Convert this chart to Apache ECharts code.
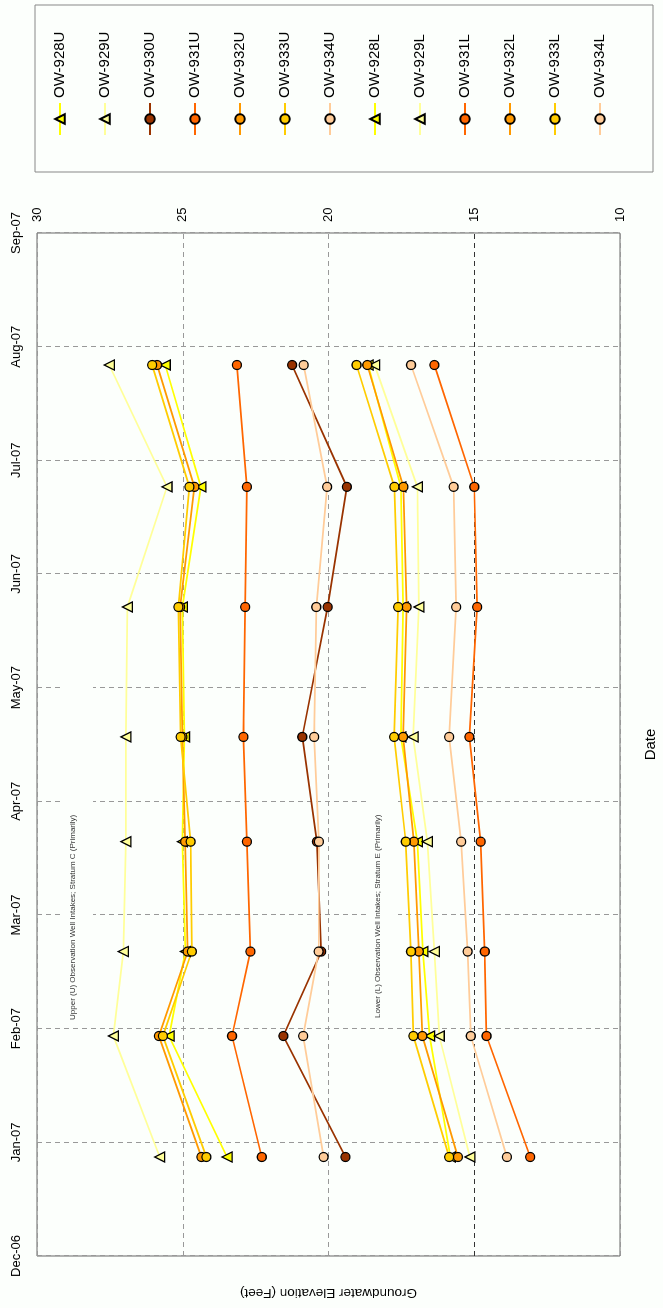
<!DOCTYPE html>
<html><head><meta charset="utf-8">
<script src="https://cdn.jsdelivr.net/npm/echarts/dist/echarts.min.js"></script>
<style>
html,body{margin:0;padding:0;background:#fcfffc;overflow:hidden;width:663px;height:1308px}
#chart{position:absolute;left:0;top:0;width:1308px;height:663px;transform-origin:0 0;transform:translate(0,1308px) rotate(-90deg);}
</style></head><body><div id="chart"></div>
<script>
// Sampling dates
const dates = ['2006-12-28','2007-01-30','2007-02-20','2007-03-21','2007-04-18','2007-05-23','2007-06-24','2007-07-27'];
// Month tick labels (Dec-06 .. Sep-07)
const monthLabels = ['Dec-06','Jan-07','Feb-07','Mar-07','Apr-07','May-07','Jun-07','Jul-07','Aug-07','Sep-07'];
const elevTicks = [10,15,20,25,30];

// Upper wells (feet)
const ow928U = [23.48,25.47,24.91,25.01,24.94,25.01,24.38,25.60];
const ow929U = [25.79,27.38,27.04,26.95,26.95,26.90,25.54,27.52];
const ow930U = [19.42,21.55,20.25,20.40,20.90,20.03,19.37,21.25];
const ow931U = [22.29,23.31,22.68,22.80,22.92,22.86,22.80,23.14];
const ow932U = [24.36,25.82,24.83,24.92,25.01,25.09,24.60,25.88];
const ow933U = [24.19,25.68,24.69,24.73,25.07,25.15,24.77,26.05];
const ow934U = [20.17,20.87,20.34,20.33,20.49,20.42,20.05,20.85];
// Lower wells (feet)
const ow928L = [15.82,16.53,16.76,16.95,17.52,17.44,17.52,18.64];
const ow929L = [15.15,16.20,16.37,16.61,17.10,16.90,16.95,18.42];
const ow931L = [13.08,14.58,14.64,14.78,15.17,14.90,15.00,16.37];
const ow932L = [15.56,16.78,16.90,17.07,17.44,17.32,17.43,18.67];
const ow933L = [15.86,17.09,17.17,17.35,17.75,17.61,17.74,19.04];
const ow934L = [13.88,15.12,15.23,15.45,15.86,15.62,15.71,17.17];

const FONT = 'Liberation Sans, Arial, sans-serif';

// month position on the month-uniform axis (0 = Dec-06)
function monthPos(s){
  const p = s.split('-').map(Number);
  const idx = (p[0]-2006)*12 + (p[1]-12);
  const dim = new Date(p[0], p[1], 0).getDate();
  return idx + (p[2]-1)/dim;
}

function mk(name, vals, color, symbol){
  return {
    name, type:'line',
    data: dates.map((d,i)=>[monthPos(d), vals[i]]),
    symbol, symbolSize: symbol==='triangle' ? 10 : 9,
    showAllSymbol: true,
    lineStyle:{color, width:1.75},
    itemStyle:{color, borderColor:'#000', borderWidth:1.3},
    emphasis:{disabled:true},
    z: 3
  };
}

const series = [
  mk('OW-928U', ow928U, '#FFFF00', 'triangle'),
  mk('OW-929U', ow929U, '#FFFF99', 'triangle'),
  mk('OW-930U', ow930U, '#993300', 'circle'),
  mk('OW-931U', ow931U, '#FF6600', 'circle'),
  mk('OW-932U', ow932U, '#FF9900', 'circle'),
  mk('OW-933U', ow933U, '#FFCC00', 'circle'),
  mk('OW-934U', ow934U, '#FFCC99', 'circle'),
  mk('OW-928L', ow928L, '#FFFF00', 'triangle'),
  mk('OW-929L', ow929L, '#FFFF99', 'triangle'),
  mk('OW-931L', ow931L, '#FF6600', 'circle'),
  mk('OW-932L', ow932L, '#FF9900', 'circle'),
  mk('OW-933L', ow933L, '#FFCC00', 'circle'),
  mk('OW-934L', ow934L, '#FFCC99', 'circle')
];

const chart = echarts.init(document.getElementById('chart'), null, {renderer:'canvas'});
chart.setOption({
  animation:false,
  backgroundColor:'#fcfffc',
  textStyle:{fontFamily:FONT},
  grid:{left:46, right:233, top:37, bottom:36, show:true, borderColor:'#666', borderWidth:1, backgroundColor:'transparent'},
  xAxis:[{
    type:'value', position:'top', min:0, max:monthLabels.length-1, interval:1,
    axisLine:{show:false}, axisTick:{show:false},
    axisLabel:{formatter:v=>monthLabels[v], margin:14, fontSize:13, color:'#000', fontFamily:FONT, showMinLabel:true, showMaxLabel:true},
    splitLine:{show:true, lineStyle:{color:'#999', type:[5,4], width:1}}
  },{
    type:'value', position:'bottom', min:0, max:monthLabels.length-1,
    name:'Date', nameLocation:'middle', nameGap:23,
    nameTextStyle:{fontSize:15, color:'#000', fontFamily:FONT},
    axisLine:{show:false}, axisTick:{show:false}, axisLabel:{show:false}, splitLine:{show:false}
  }],
  yAxis:[{
    type:'value', position:'right', min:elevTicks[0], max:elevTicks[elevTicks.length-1], interval:5,
    axisLine:{show:false}, axisTick:{show:false},
    axisLabel:{margin:11, fontSize:13, color:'#000', fontFamily:FONT},
    splitLine:{show:true, lineStyle:{color:['#999','#333','#999','#999','#999'], type:[5,4], width:1}}
  },{
    type:'value', position:'left', min:elevTicks[0], max:elevTicks[elevTicks.length-1],
    name:'Groundwater Elevation (Feet)', nameLocation:'middle', nameGap:30, nameRotate:90,
    nameTextStyle:{fontSize:13.5, color:'#000', fontFamily:FONT},
    axisLine:{show:false}, axisTick:{show:false}, axisLabel:{show:false}, splitLine:{show:false}
  }],
  legend:{
    orient:'vertical', left:1167, top:47,
    itemWidth:32, itemHeight:12, itemGap:29,
    textStyle:{fontSize:15, lineHeight:16, color:'#000', fontFamily:FONT},
    data: series.map(s=>s.name)
  },
  graphic:[
    {type:'rect', shape:{x:1136, y:35, width:167, height:618}, style:{fill:'none', stroke:'#888', lineWidth:1}, z:1},
    {type:'rect', shape:{x:283, y:63, width:360, height:30}, style:{fill:'#fcfffc'}, z:1},
    {type:'text', x:288, y:72.5, style:{text:'Upper (U) Observation Well Intakes; Stratum C (Primarily)', font:'8px '+FONT, fill:'#333', verticalAlign:'middle'}, z:1},
    {type:'rect', shape:{x:283, y:370, width:360, height:28}, style:{fill:'#fcfffc'}, z:1},
    {type:'text', x:290, y:378, style:{text:'Lower (L) Observation Well Intakes; Stratum E (Primarily)', font:'8px '+FONT, fill:'#333', verticalAlign:'middle'}, z:1}
  ],
  series
});
</script></body></html>
